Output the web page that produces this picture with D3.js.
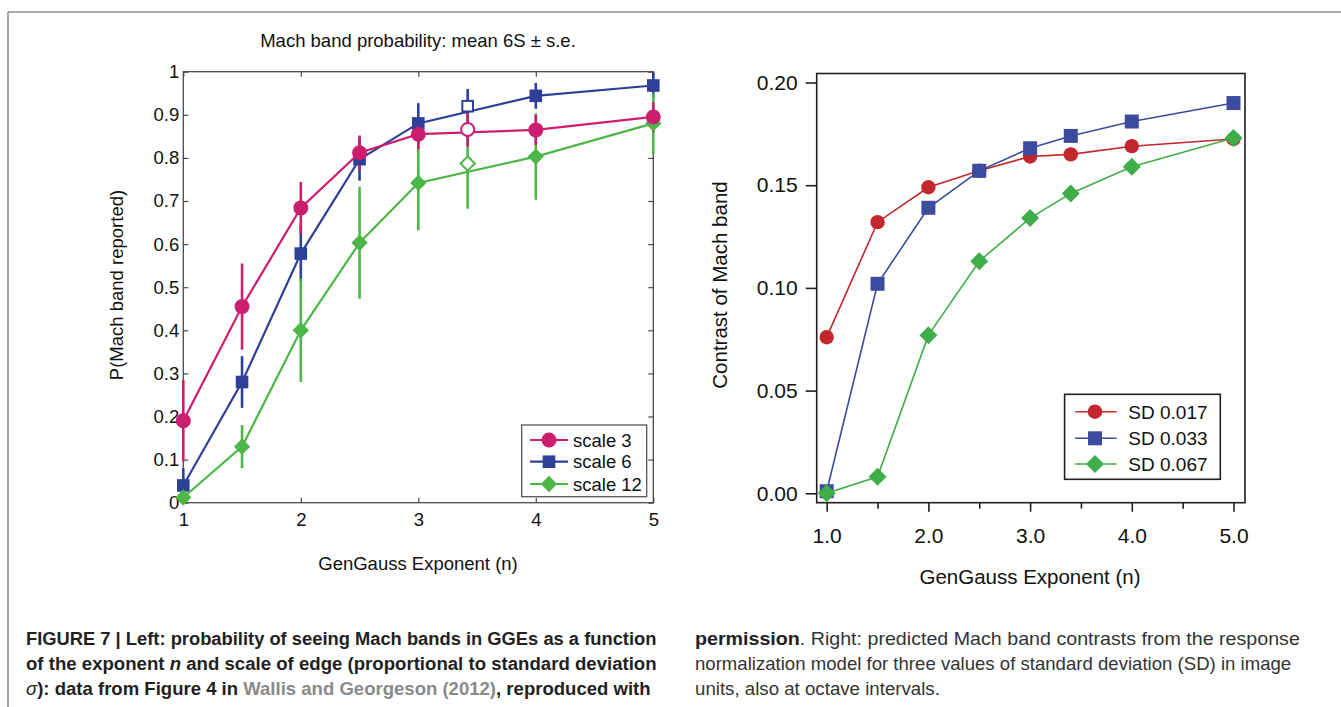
<!DOCTYPE html>
<html><head><meta charset="utf-8">
<script src="https://cdn.jsdelivr.net/npm/d3@7"></script>
<style>
html,body{margin:0;padding:0;background:#fff;}
svg{display:block;font-family:"Liberation Sans",Arial,Helvetica,sans-serif;}
</style></head>
<body>
<svg id="fig" width="1341" height="707"></svg>
<script>
// ---------------- DATA ----------------
// Left panel: Mach band probability (Wallis & Georgeson 2012)
const leftX = [1, 1.5, 2, 2.5, 3, 4, 5];
const openX = 3.42;
const scale3 = [0.19, 0.455, 0.684, 0.812, 0.855, 0.865, 0.895];
const scale3Err = [0.095, 0.10, 0.06, 0.04, 0.035, 0.035, 0.035];
const scale6 = [0.04, 0.28, 0.578, 0.797, 0.88, 0.944, 0.968];
const scale6Err = [0.04, 0.06, 0.065, 0.05, 0.047, 0.03, 0.03];
const scale12 = [0.012, 0.13, 0.40, 0.603, 0.742, 0.803, 0.88];
const scale12Err = [0.01, 0.05, 0.12, 0.13, 0.11, 0.10, 0.07];
const openScale3 = 0.866, openScale3Err = 0.04;
const openScale6 = 0.92, openScale6Err = 0.04;
const openScale12 = 0.787, openScale12Err = 0.105;
const leftSeriesNames = ["scale 3", "scale 6", "scale 12"];
const leftYTicks = [0, 0.1, 0.2, 0.3, 0.4, 0.5, 0.6, 0.7, 0.8, 0.9, 1];
const leftXTicks = [1, 2, 3, 4, 5];

// Right panel: model predictions
const rightX = [1, 1.5, 2, 2.5, 3, 3.4, 4, 5];
const sd017 = [0.076, 0.132, 0.149, 0.157, 0.164, 0.165, 0.169, 0.1725];
const sd033 = [0.001, 0.102, 0.139, 0.157, 0.168, 0.174, 0.181, 0.190];
const sd067 = [0.0, 0.008, 0.077, 0.113, 0.134, 0.146, 0.159, 0.173];
const rightSeriesNames = ["SD 0.017", "SD 0.033", "SD 0.067"];
const rightYTicks = [0, 0.05, 0.10, 0.15, 0.20];
const rightXTicks = [1, 2, 3, 4, 5];
const rightXMinor = [1.5, 2.5, 3.5, 4.5];

// ---------------- DRAW ----------------
const svg = d3.select("#fig");

// frame
svg.append("line").attr("x1", 8).attr("y1", 12).attr("x2", 1341).attr("y2", 12)
  .attr("stroke", "#8c8c8c").attr("stroke-width", 1.6);
svg.append("line").attr("x1", 8).attr("y1", 12).attr("x2", 8).attr("y2", 707)
  .attr("stroke", "#8c8c8c").attr("stroke-width", 1.6);

function marker(g, shape, cx, cy, size, fill, stroke, sw) {
  if (shape === "circle") {
    g.append("circle").attr("cx", cx).attr("cy", cy).attr("r", size)
      .attr("fill", fill).attr("stroke", stroke).attr("stroke-width", sw || 0);
  } else if (shape === "square") {
    g.append("rect").attr("x", cx - size).attr("y", cy - size)
      .attr("width", 2 * size).attr("height", 2 * size)
      .attr("fill", fill).attr("stroke", stroke).attr("stroke-width", sw || 0);
  } else {
    g.append("path").attr("d", `M${cx},${cy - size}L${cx + size},${cy}L${cx},${cy + size}L${cx - size},${cy}Z`)
      .attr("fill", fill).attr("stroke", stroke).attr("stroke-width", sw || 0);
  }
}

// ===== LEFT PANEL =====
(function () {
  const x = d3.scaleLinear().domain([1, 5]).range([183.3, 653.3]);
  const y = d3.scaleLinear().domain([0, 1]).range([502.7, 71.7]);
  const g = svg.append("g");
  const fs = 18.5;
  const axisCol = "#4a4a4a";

  g.append("text").attr("x", 418).attr("y", 47).attr("text-anchor", "middle")
    .attr("font-size", fs).attr("fill", "#111").text("Mach band probability: mean 6S \u00b1 s.e.");

  const fmt = d => (d === 0 ? "0" : d === 1 ? "1" : d3.format(".1f")(d));
  const ax = g.append("g").attr("transform", `translate(${x(1)},0)`)
    .call(d3.axisLeft(y).tickValues(leftYTicks).tickFormat(fmt).tickSizeInner(-5).tickSizeOuter(0).tickPadding(4));
  const axR = g.append("g").attr("transform", `translate(${x(5)},0)`)
    .call(d3.axisRight(y).tickValues(leftYTicks).tickFormat("").tickSizeInner(-5).tickSizeOuter(0));
  const axB = g.append("g").attr("transform", `translate(0,${y(0)})`)
    .call(d3.axisBottom(x).tickValues(leftXTicks).tickFormat(d3.format("d")).tickSizeInner(-5).tickSizeOuter(0).tickPadding(9.7));
  const axT = g.append("g").attr("transform", `translate(0,${y(1)})`)
    .call(d3.axisTop(x).tickValues(leftXTicks).tickFormat("").tickSizeInner(-5).tickSizeOuter(0));
  [ax, axR, axB, axT].forEach(a => {
    a.select(".domain").remove();
    a.selectAll("line").attr("stroke", axisCol).attr("stroke-width", 1.2);
    a.selectAll("text").attr("font-size", fs).attr("fill", "#111")
      .attr("font-family", '"Liberation Sans",Arial,sans-serif');
  });
  g.append("rect").attr("x", x(1)).attr("y", y(1)).attr("width", x(5) - x(1)).attr("height", y(0) - y(1))
    .attr("fill", "none").attr("stroke", axisCol).attr("stroke-width", 1.3);

  g.append("text").attr("x", 418).attr("y", 570).attr("text-anchor", "middle")
    .attr("font-size", fs).attr("fill", "#111").text("GenGauss Exponent (n)");
  g.append("text").attr("transform", "translate(123,285) rotate(-90)").attr("text-anchor", "middle")
    .attr("font-size", fs).attr("fill", "#111").text("P(Mach band reported)");

  const series = [
    { vals: scale6, err: scale6Err, open: openScale6, openErr: openScale6Err, color: "#2e3f98", shape: "square", size: 6.3 },
    { vals: scale12, err: scale12Err, open: openScale12, openErr: openScale12Err, color: "#4cb748", shape: "diamond", size: 8.2 },
    { vals: scale3, err: scale3Err, open: openScale3, openErr: openScale3Err, color: "#cc1e6e", shape: "circle", size: 7.5 }
  ];
  const line = d3.line().x(d => x(d[0])).y(d => y(d[1]));
  // error bars
  series.forEach(s => {
    s.vals.forEach((v, i) => {
      g.append("line").attr("x1", x(leftX[i])).attr("x2", x(leftX[i]))
        .attr("y1", y(v - s.err[i])).attr("y2", y(v + s.err[i]))
        .attr("stroke", s.color).attr("stroke-width", 2.6);
    });
    g.append("line").attr("x1", x(openX)).attr("x2", x(openX))
      .attr("y1", y(s.open - s.openErr)).attr("y2", y(s.open + s.openErr))
      .attr("stroke", s.color).attr("stroke-width", 2.6);
  });
  series.forEach(s => {
    g.append("path").attr("d", line(leftX.map((xv, i) => [xv, s.vals[i]])))
      .attr("fill", "none").attr("stroke", s.color).attr("stroke-width", 2.2);
    s.vals.forEach((v, i) => marker(g, s.shape, x(leftX[i]), y(v), s.size, s.color, "none"));
    marker(g, s.shape, x(openX), y(s.open), s.size - 1, "#fff", s.color, 2);
  });

  // legend
  const lg = g.append("g");
  lg.append("rect").attr("x", 521.7).attr("y", 425).attr("width", 125).attr("height", 71.7)
    .attr("fill", "#fff").attr("stroke", "#555").attr("stroke-width", 1.3);
  const legOrder = [series[2], series[0], series[1]];
  const legY = [440, 461.7, 484];
  legOrder.forEach((s, i) => {
    lg.append("line").attr("x1", 530).attr("x2", 568).attr("y1", legY[i]).attr("y2", legY[i])
      .attr("stroke", s.color).attr("stroke-width", 2.2);
    marker(lg, s.shape, 549, legY[i], s.size, s.color, "none");
    lg.append("text").attr("x", 573).attr("y", legY[i] + 6.5).attr("font-size", fs).attr("fill", "#111")
      .text(leftSeriesNames[i]);
  });
})();

// ===== RIGHT PANEL =====
(function () {
  const x = d3.scaleLinear().domain([1, 5]).range([826.7, 1233.5]);
  const y = d3.scaleLinear().domain([0, 0.2]).range([493.3, 82.5]);
  const g = svg.append("g");
  const box = { x0: 816.7, x1: 1245, y0: 73.5, y1: 502.7 };
  const col = "#231f20";
  g.append("rect").attr("x", box.x0).attr("y", box.y0).attr("width", box.x1 - box.x0).attr("height", box.y1 - box.y0)
    .attr("fill", "none").attr("stroke", col).attr("stroke-width", 1.6);

  const ay = g.append("g").attr("transform", `translate(${box.x0},0)`)
    .call(d3.axisLeft(y).tickValues(rightYTicks).tickFormat(d3.format(".2f")).tickSizeInner(11).tickSizeOuter(0).tickPadding(8));
  const ab = g.append("g").attr("transform", `translate(0,${box.y1})`)
    .call(d3.axisBottom(x).tickValues(rightXTicks).tickFormat(d3.format(".1f")).tickSizeInner(9).tickSizeOuter(0).tickPadding(16.5));
  const am = g.append("g").attr("transform", `translate(0,${box.y1})`)
    .call(d3.axisBottom(x).tickValues(rightXMinor).tickFormat("").tickSizeInner(6).tickSizeOuter(0));
  [ay, ab, am].forEach(a => {
    a.select(".domain").remove();
    a.selectAll("line").attr("stroke", col).attr("stroke-width", 1.6);
    a.selectAll("text").attr("font-size", 21).attr("fill", "#111")
      .attr("font-family", '"Liberation Sans",Arial,sans-serif');
  });

  g.append("text").attr("x", 1030).attr("y", 584).attr("text-anchor", "middle")
    .attr("font-size", 20.5).attr("fill", "#111").text("GenGauss Exponent (n)");
  g.append("text").attr("transform", "translate(727,285) rotate(-90)").attr("text-anchor", "middle")
    .attr("font-size", 20.5).attr("fill", "#111").text("Contrast of Mach band");

  const series = [
    { vals: sd017, color: "#c1272d", shape: "circle", size: 7.2 },
    { vals: sd033, color: "#3c4b9d", shape: "square", size: 7 },
    { vals: sd067, color: "#3fae48", shape: "diamond", size: 9 }
  ];
  const line = d3.line().x(d => x(d[0])).y(d => y(d[1]));
  series.forEach(s => {
    g.append("path").attr("d", line(rightX.map((xv, i) => [xv, s.vals[i]])))
      .attr("fill", "none").attr("stroke", s.color).attr("stroke-width", 1.6);
    s.vals.forEach((v, i) => marker(g, s.shape, x(rightX[i]), y(v), s.size, s.color, "none"));
  });

  const lg = g.append("g");
  lg.append("rect").attr("x", 1064.6).attr("y", 394.3).attr("width", 155.7).attr("height", 85)
    .attr("fill", "#fff").attr("stroke", col).attr("stroke-width", 1.6);
  const legY = [411.7, 438.3, 464];
  series.forEach((s, i) => {
    lg.append("line").attr("x1", 1075.2).attr("x2", 1116.6).attr("y1", legY[i]).attr("y2", legY[i])
      .attr("stroke", s.color).attr("stroke-width", 1.6);
    marker(lg, s.shape, 1095, legY[i], s.size, s.color, "none");
    lg.append("text").attr("x", 1128.3).attr("y", legY[i] + 7).attr("font-size", 19).attr("fill", "#111")
      .text(rightSeriesNames[i]);
  });
})();

// ===== CAPTION =====
(function () {
  const cap = svg.append("g").attr("font-family", '"Liberation Sans Narrow","Arial Narrow","Liberation Sans",Arial,sans-serif');
  const lines = [
    { x: 26, y: 644.5, w: 631, parts: [["FIGURE 7 | Left: probability of seeing Mach bands in GGEs as a function", "b"]] },
    { x: 26, y: 670, w: 631, parts: [["of the exponent ", "b"], ["n", "bi"], [" and scale of edge (proportional to standard deviation", "b"]] },
    { x: 26, y: 694.5, w: 625, parts: [["\u03c3", "i"], ["): data from Figure 4 in ", "b"], ["Wallis and Georgeson (2012)", "bg"], [", reproduced with", "b"]] },
    { x: 695, y: 644.5, w: 605, parts: [["permission", "b"], [". Right: predicted Mach band contrasts from the response", "r"]] },
    { x: 695, y: 670, w: 596, parts: [["normalization model for three values of standard deviation (SD) in image", "r"]] },
    { x: 695, y: 694.5, w: 245, parts: [["units, also at octave intervals.", "r"]] }
  ];
  lines.forEach(L => {
    const t = cap.append("text").attr("x", 0).attr("y", 0).attr("font-size", 18.5);
    L.parts.forEach(p => {
      const ts = t.append("tspan").text(p[0]);
      ts.attr("font-weight", p[1].includes("b") ? "bold" : "normal");
      if (p[1].includes("i")) ts.attr("font-style", "italic");
      ts.attr("fill", p[1].includes("g") ? "#8a8a8a" : (p[1] === "r" ? "#333" : "#231f20"));
    });
    const w = t.node().getComputedTextLength();
    t.attr("transform", `translate(${L.x},${L.y}) scale(${L.w / w},1)`);
  });
})();
</script>
</body></html>
